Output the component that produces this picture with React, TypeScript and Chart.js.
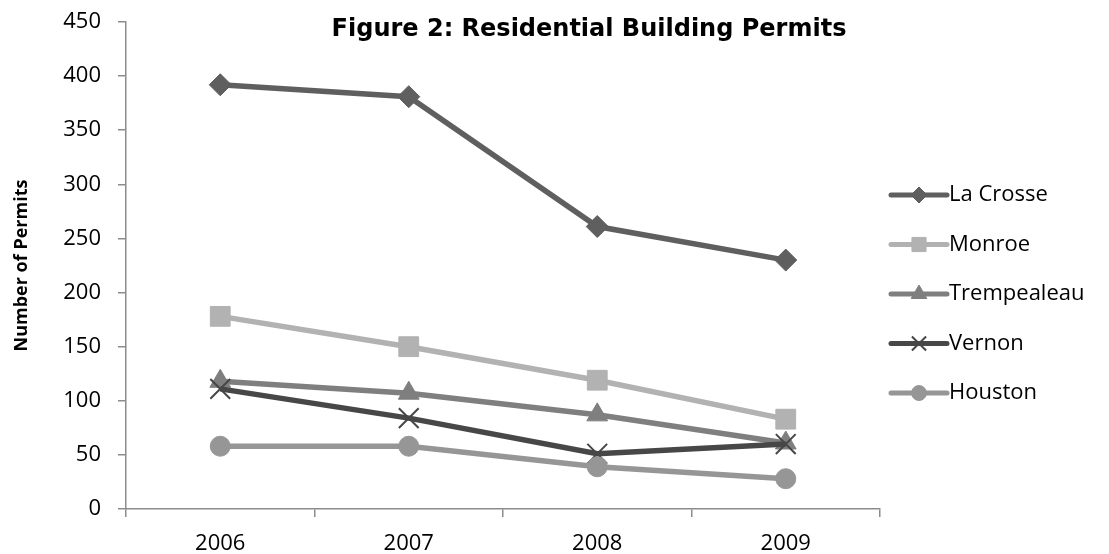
import React, { useEffect, useRef } from 'react';
import { Chart, registerables } from 'chart.js';
import { drawPoint } from 'chart.js/helpers';

Chart.register(...registerables);

const chartTitle = 'Figure 2: Residential Building Permits';
const yAxisTitle = 'Number of Permits';
const years = ['2006', '2007', '2008', '2009'];
const seriesNames = ['La Crosse', 'Monroe', 'Trempealeau', 'Vernon', 'Houston'];
const laCrosse = [392, 381, 261, 230];
const monroe = [178, 150, 119, 83];
const trempealeau = [118, 107, 87, 61];
const vernon = [111, 84, 51, 60];
const houston = [58, 58, 39, 28];
const yMin = 0;
const yMax = 450;
const yStep = 50;

const seriesValues = [laCrosse, monroe, trempealeau, vernon, houston];
const seriesColors = ['#5f5f5f', '#b2b2b2', '#7f7f7f', '#474747', '#969696'];
const pointStyles = ['rectRot', 'rect', 'triangle', 'crossRot', 'circle'];
const pointRadii = [11, 14, 12, 14, 10];
const legendRadii = [8, 10, 9, 10, 7.5];

const titlePlugin = {
  id: 'figTitle',
  afterDraw(chart: any) {
    const ctx = chart.ctx;
    ctx.save();
    ctx.font = 'bold 24px "DejaVu Sans"';
    ctx.fillStyle = '#000';
    ctx.textAlign = 'center';
    ctx.textBaseline = 'middle';
    ctx.fillText(chartTitle, 589, 30);
    ctx.restore();
  },
};

const legendPlugin = {
  id: 'lineLegend',
  afterDraw(chart: any) {
    const ctx = chart.ctx;
    const area = chart.chartArea;
    const x0 = area.right + 11;
    const lineLen = 56;
    const rowH = 49.5;
    const y0 = area.top + 173;
    ctx.save();
    chart.data.datasets.forEach((ds: any, i: number) => {
      const y = y0 + i * rowH;
      ctx.strokeStyle = ds.borderColor;
      ctx.lineWidth = 5;
      ctx.lineCap = 'round';
      ctx.beginPath();
      ctx.moveTo(x0, y);
      ctx.lineTo(x0 + lineLen, y);
      ctx.stroke();
      ctx.fillStyle = ds.pointBackgroundColor;
      ctx.strokeStyle = ds.pointBorderColor;
      ctx.lineWidth = ds.pointBorderWidth;
      ctx.lineCap = 'butt';
      drawPoint(ctx, { pointStyle: ds.pointStyle, radius: legendRadii[i], rotation: 0, borderWidth: ds.pointBorderWidth }, x0 + lineLen / 2, y);
      ctx.fillStyle = '#000';
      ctx.font = '22px "Open Sans"';
      ctx.textAlign = 'left';
      ctx.textBaseline = 'middle';
      ctx.fillText(ds.label, x0 + lineLen + 2, y);
    });
    ctx.restore();
  },
};

export default function App() {
  const canvasRef = useRef<HTMLCanvasElement | null>(null);

  useEffect(() => {
    if (!canvasRef.current) return;
    Chart.defaults.font.family = '"Open Sans"';
    const axisColor = '#8c8c8c';
    const chart = new Chart(canvasRef.current, {
      type: 'line',
      data: {
        labels: years,
        datasets: seriesNames.map((name, i) => ({
          label: name,
          data: seriesValues[i],
          borderColor: seriesColors[i],
          backgroundColor: seriesColors[i],
          pointBackgroundColor: seriesColors[i],
          pointBorderColor: seriesColors[i],
          pointBorderWidth: pointStyles[i] === 'crossRot' ? 2 : 1,
          pointStyle: pointStyles[i],
          pointRadius: pointRadii[i],
          borderWidth: 5.5,
          tension: 0,
          fill: false,
          order: seriesNames.length - i,
        })),
      },
      options: {
        animation: false,
        responsive: true,
        maintainAspectRatio: false,
        layout: { padding: { left: 0, right: 229, top: 22, bottom: 0 } },
        plugins: {
          legend: { display: false },
          title: { display: false },
          tooltip: { enabled: false },
        },
        scales: {
          x: {
            type: 'category',
            offset: true,
            grid: {
              offset: true,
              drawOnChartArea: false,
              drawTicks: true,
              tickLength: 8,
              color: axisColor,
              lineWidth: 1.5,
            },
            border: { color: axisColor, width: 1.5 },
            ticks: { color: '#000', font: { size: 22 }, padding: 14, maxRotation: 0 },
            afterFit: (s: any) => {
              s.height = 45;
              s.paddingLeft = 0;
              s.paddingRight = 0;
            },
          },
          y: {
            min: yMin,
            max: yMax,
            grid: {
              drawOnChartArea: false,
              drawTicks: true,
              tickLength: 8,
              color: axisColor,
              lineWidth: 1.5,
            },
            border: { color: axisColor, width: 1.5 },
            ticks: { stepSize: yStep, color: '#000', font: { size: 22 }, padding: 17 },
            title: {
              display: true,
              text: yAxisTitle,
              color: '#000',
              font: { size: 18, weight: 'bold' },
              padding: { top: 11, bottom: 0 },
            },
            afterFit: (s: any) => {
              s.width = 126;
              s.paddingTop = 0;
              s.paddingBottom = 0;
            },
          },
        },
      },
      plugins: [titlePlugin, legendPlugin],
    } as any);
    return () => chart.destroy();
  }, []);

  return (
    <div style={{ position: 'fixed', left: 0, top: 0, width: '1109px', height: '554px', background: '#fff' }}>
      <canvas ref={canvasRef} />
    </div>
  );
}
